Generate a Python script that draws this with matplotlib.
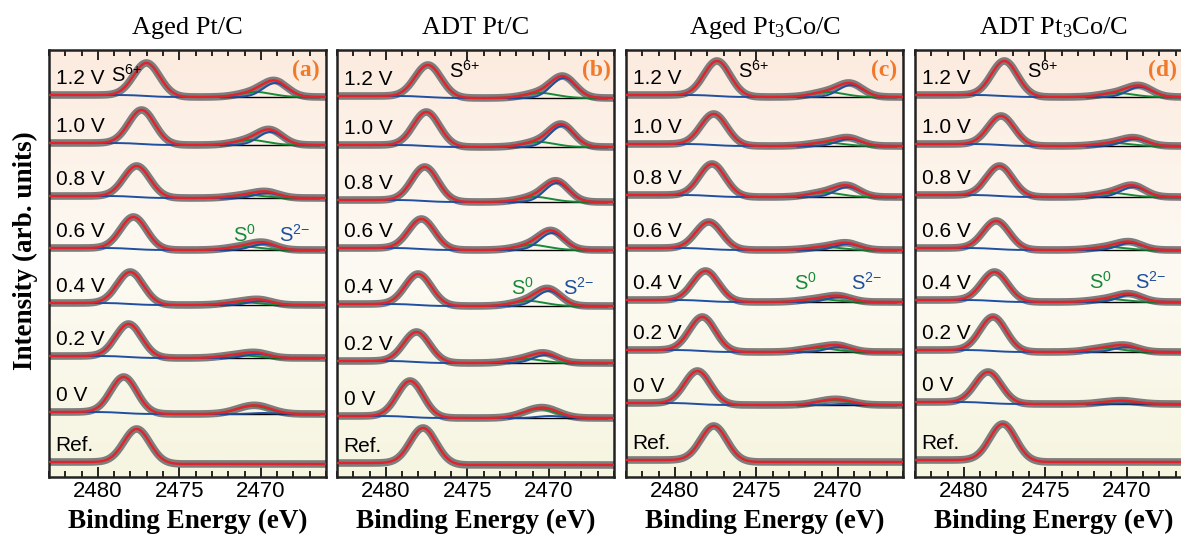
import numpy as np
import matplotlib
matplotlib.use("Agg")
import matplotlib.pyplot as plt
from matplotlib.ticker import MultipleLocator
from matplotlib.colors import LinearSegmentedColormap

plt.rcParams['mathtext.default'] = 'regular'

# ---------------- data ----------------
titles = ["Aged Pt/C", "ADT Pt/C", "Aged Pt$_3$Co/C", "ADT Pt$_3$Co/C"]
letters = ["(a)", "(b)", "(c)", "(d)"]
voltages = ["1.2 V", "1.0 V", "0.8 V", "0.6 V", "0.4 V", "0.2 V", "0 V", "Ref."]
xticks = [2480, 2475, 2470]

# S6+ peak centre (eV) and height (arb.)
a_s6_pos = [2477.0, 2477.3, 2477.6, 2477.8, 2478.0, 2478.1, 2478.4, 2477.6]
a_s6_h = [33, 34, 31, 32, 32, 33, 36, 34]
b_s6_pos = [2477.4, 2477.5, 2477.6, 2477.8, 2478.0, 2478.1, 2478.5, 2477.7]
b_s6_h = [32, 34, 34, 30, 31, 30, 36, 36]
c_s6_pos = [2477.4, 2477.6, 2477.7, 2477.9, 2478.1, 2478.3, 2478.6, 2477.6]
c_s6_h = [35, 31, 32, 27, 30, 34, 33, 35]
d_s6_pos = [2477.5, 2477.7, 2477.8, 2478.0, 2478.1, 2478.2, 2478.5, 2477.6]
d_s6_h = [35, 29, 30, 28, 29, 34, 31, 37]

# S2- component (blue)
a_s2_pos = [2469.1, 2469.4, 2469.6, 2469.8, 2470.0, 2470.2, 2469.8, 0]
a_s2_h = [14, 13, 5, 6, 4, 4, 1, 0]
b_s2_pos = [2469.1, 2469.2, 2469.5, 2469.8, 2470.0, 2470.2, 2469.9, 0]
b_s2_h = [20, 21, 19, 17, 15, 8, 2, 0]
c_s2_pos = [2469.2, 2469.3, 2469.4, 2469.4, 2469.9, 2469.9, 2469.6, 0]
c_s2_h = [12, 7, 10, 6, 5, 5, 1, 0]
d_s2_pos = [2469.2, 2469.5, 2469.6, 2469.8, 2469.8, 2470.0, 2469.8, 0]
d_s2_h = [10, 7, 10, 7, 7, 5, 0.5, 0]

# S0 component (green)
a_s0_pos = [2470.3, 2470.6, 2470.8, 2471.0, 2471.2, 2471.4, 2470.5, 0]
a_s0_h = [5, 5, 3, 3.5, 3, 3, 8, 0]
b_s0_pos = [2470.5, 2470.6, 2470.8, 2471.0, 2471.2, 2471.4, 2470.6, 0]
b_s0_h = [5, 5, 5, 5, 5, 4, 9, 0]
c_s0_pos = [2470.6, 2470.7, 2470.8, 2470.8, 2471.2, 2471.2, 2470.3, 0]
c_s0_h = [5, 3.5, 4.5, 3, 3, 4, 5, 0]
d_s0_pos = [2470.6, 2470.8, 2470.9, 2471.1, 2471.1, 2471.3, 2470.5, 0]
d_s0_h = [4, 3, 4, 3, 3, 4, 3, 0]

# ---------------- layout / style ----------------
W, H = 1181, 534
ax_left_px = [49, 337, 626, 915]
ax_w_px = 277
ax_top_px, ax_bot_px = 50, 477
rows = [
    [97, 145, 198, 250, 305, 358, 414, 464],
    [98, 147, 202, 250, 306, 363, 418, 465],
    [97, 146, 197, 250, 302, 352, 405, 462],
    [97, 146, 197, 250, 302, 352, 404, 462],
]
letter_right_px = [320, 611, 897, 1177]
s6_labels_x = [2479.2, 2476.1, 2476.1, 2476.1]
s6_labels_row = [82, 78, 78, 78]
s0_lab_x = [2471.7, 2472.3, 2472.7, 2472.3]
s2_lab_x = [2468.9, 2469.1, 2469.2, 2469.5]
s_lab_row = [242, 295, 290, 289]

SANS = "Liberation Sans"
SERIF = "Liberation Serif"
C_RED = "#e3232b"
C_BLUE = "#1f4fa0"
C_GREEN = "#178a3a"
C_GRAY = "#7d7d7d"
C_ORANGE = "#f07a2a"

s6_pos = [a_s6_pos, b_s6_pos, c_s6_pos, d_s6_pos]
s6_h = [a_s6_h, b_s6_h, c_s6_h, d_s6_h]
s2_pos = [a_s2_pos, b_s2_pos, c_s2_pos, d_s2_pos]
s2_h = [a_s2_h, b_s2_h, c_s2_h, d_s2_h]
s0_pos = [a_s0_pos, b_s0_pos, c_s0_pos, d_s0_pos]
s0_h = [a_s0_h, b_s0_h, c_s0_h, d_s0_h]

SIG6, SIG2, SIG0 = 0.8, 0.75, 1.0
STEP = 2.0


def gauss(x, c, s):
    return np.exp(-0.5 * ((x - c) / s) ** 2)


bg_cmap = LinearSegmentedColormap.from_list(
    "bg", [(0.0, "#f6f5e0"), (0.5, "#fdfaf3"), (1.0, "#fcebdf")])

fig = plt.figure(figsize=(W / 100, H / 100), dpi=100)
x = np.linspace(2466.0, 2483.0, 700)
ymax = ax_bot_px - ax_top_px

for p in range(4):
    ax = fig.add_axes([ax_left_px[p] / W, 1 - ax_bot_px / H,
                       ax_w_px / W, (ax_bot_px - ax_top_px) / H])
    ax.set_xlim(2483, 2466)
    ax.set_ylim(0, ymax)
    grad = np.linspace(0, 1, 256).reshape(-1, 1)
    ax.imshow(grad, cmap=bg_cmap, origin="lower", aspect="auto",
              extent=(2483, 2466, 0, ymax), zorder=0)

    for i, v in enumerate(voltages):
        base = ax_bot_px - rows[p][i]
        g6 = s6_h[p][i] * gauss(x, s6_pos[p][i], SIG6)
        cum = np.cumsum(gauss(x, s6_pos[p][i], SIG6))
        bkg = base + STEP * cum / cum[-1]
        g2 = s2_h[p][i] * gauss(x, s2_pos[p][i], SIG2) if s2_h[p][i] else 0 * x
        g0 = s0_h[p][i] * gauss(x, s0_pos[p][i], SIG0) if s0_h[p][i] else 0 * x
        total = bkg + g6 + g2 + g0
        ax.plot(x, total, color=C_GRAY, lw=5.5, solid_capstyle="round", zorder=2)
        if v != "Ref.":
            m0 = x < 2473.5
            mb = (x < 2472.5) & (x > 2466.4)
            ax.plot(x[mb], bkg[mb], color="black", lw=1.0, zorder=3)
            ax.plot(x[m0], (bkg + g0)[m0], color=C_GREEN, lw=1.4, zorder=3)
            ax.plot(x, bkg + g2, color=C_BLUE, lw=1.4, zorder=4)
        ax.plot(x, total, color=C_RED, lw=1.7, zorder=5)
        ax.text(2482.6, base + 9, v, fontsize=15, family=SANS,
                ha="left", va="bottom", zorder=6)

    # labels
    ax.text(s6_labels_x[p], ax_bot_px - s6_labels_row[p], "S$^{6{+}}$",
            fontsize=14.5, family=SANS, ha="left", va="baseline", zorder=6)
    ax.text(s0_lab_x[p], ax_bot_px - s_lab_row[p], "S$^{0}$", color=C_GREEN,
            fontsize=14.5, family=SANS, ha="left", va="baseline", zorder=6)
    ax.text(s2_lab_x[p], ax_bot_px - s_lab_row[p], "S$^{2{-}}$", color=C_BLUE,
            fontsize=14.5, family=SANS, ha="left", va="baseline", zorder=6)
    fig.text(letter_right_px[p] / W, 1 - 70 / H, letters[p],
             color=C_ORANGE, fontsize=17, family=SERIF, fontweight="bold",
             ha="right", va="center", zorder=6)

    ax.set_xticks(xticks)
    ax.xaxis.set_minor_locator(MultipleLocator(1))
    ax.tick_params(axis="x", which="both", direction="in", top=True,
                   bottom=True, width=1.2, labelsize=16, pad=3)
    ax.tick_params(axis="x", which="major", length=7)
    ax.tick_params(axis="x", which="minor", length=4)
    for lab in ax.get_xticklabels():
        lab.set_family(SANS)
    ax.set_yticks([])
    for sp in ax.spines.values():
        sp.set_linewidth(1.8)
        sp.set_color("#222222")

    cx = (ax_left_px[p] + ax_w_px / 2) / W
    fig.text(cx, 1 - 28 / H, titles[p], family=SERIF, fontsize=19,
             ha="center", va="center")
    fig.text(cx, 1 - 521 / H, "Binding Energy (eV)", family=SERIF,
             fontsize=19.5, fontweight="bold", ha="center", va="center")

fig.text(25 / W, 1 - 251 / H, "Intensity (arb. units)", family=SERIF,
         fontsize=19.5, fontweight="bold", rotation=90, ha="center", va="center")

fig.savefig("out.png", dpi=100)
